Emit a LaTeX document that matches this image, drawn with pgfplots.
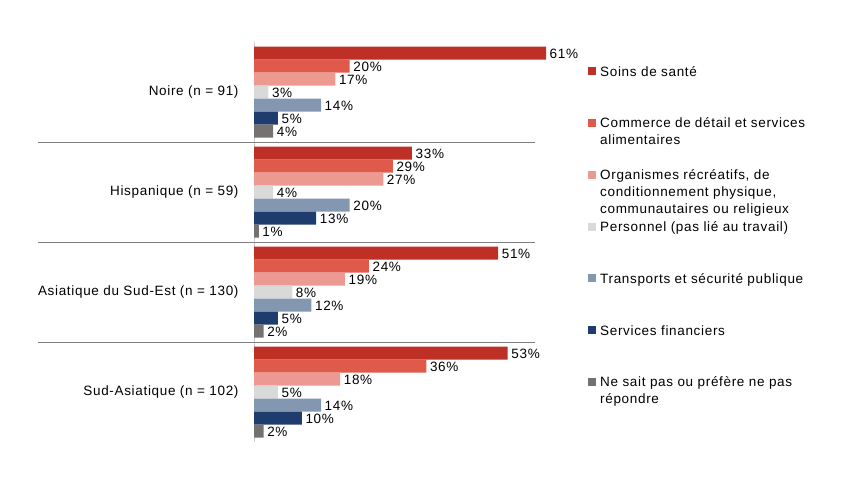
\documentclass[border=0pt]{standalone}
\usepackage{pgfplots}
\pgfplotsset{compat=1.18}
\usepackage{fontspec}
\setmainfont{Liberation Sans}[LetterSpace=5]
\definecolor{c1}{HTML}{BE2F26}
\definecolor{c2}{HTML}{E05A4B}
\definecolor{c3}{HTML}{EC9A91}
\definecolor{c4}{HTML}{D9D9D9}
\definecolor{c5}{HTML}{8497B0}
\definecolor{c6}{HTML}{1F3C6E}
\definecolor{c7}{HTML}{767171}
\newcommand\cf{\fontsize{13.5bp}{17bp}\selectfont}
\newcommand\lgent[1]{\parbox[t]{205bp}{\raggedright #1}}
\begin{document}
\begin{tikzpicture}
\useasboundingbox (0,0) rectangle (864bp,486bp);
\begin{axis}[
  at={(254bp,44bp)}, anchor=south west,
  scale only axis, width=281bp, height=400bp,
  xbar, bar width=0.13,
  xmin=0, xmax=58.7,
  ymin=-0.5, ymax=3.5, y dir=reverse,
  axis x line=none,
  axis y line*=left,
  y axis line style={draw=gray!40, -},
  ytick={0,1,2,3},
  yticklabels={Noire (n = 91), Hispanique (n = 59), Asiatique du Sud-Est (n = 130), Sud-Asiatique (n = 102)},
  major tick length=0pt,
  yticklabel style={font=\cf, xshift=-12bp},
  extra y ticks={0.5,1.5,2.5},
  extra y tick labels={},
  extra y tick style={major tick length=216bp, tick align=outside, tick style={draw=gray, line width=0.8bp}, grid=major, major grid style={draw=gray, line width=0.8bp}},
  clip=false,
  /pgf/number format/assume math mode=true,
  nodes near coords={\pgfmathprintnumber{\pgfplotspointmeta}\%},
  every node near coord/.append style={font=\cf, anchor=west, inner sep=2bp, xshift=1.5bp, yshift=-0.5bp},
  legend style={at={(1.1886,0.945)}, anchor=north west, draw=none, fill=none, font=\cf, legend cell align=left, row sep=0pt, inner sep=0pt, nodes={inner sep=0pt, text height=11.8bp, text depth=40bp}, column sep=4bp},
  legend image code/.code={\fill[#1, draw=none] (0bp,15bp) rectangle (8bp,23bp);},
]
\addplot[fill=c1, draw=none, bar shift=-0.39] coordinates {(61,0) (33,1) (51,2) (53,3)};
\addlegendentry{\lgent{Soins de santé}}
\addplot[fill=c2, draw=none, bar shift=-0.26] coordinates {(20,0) (29,1) (24,2) (36,3)};
\addlegendentry{\lgent{Commerce de détail et services alimentaires}}
\addplot[fill=c3, draw=none, bar shift=-0.13] coordinates {(17,0) (27,1) (19,2) (18,3)};
\addlegendentry{\lgent{Organismes récréatifs, de conditionnement physique, communautaires ou religieux}}
\addplot[fill=c4, draw=none, bar shift=0] coordinates {(3,0) (4,1) (8,2) (5,3)};
\addlegendentry{\lgent{Personnel (pas lié au travail)}}
\addplot[fill=c5, draw=none, bar shift=0.13] coordinates {(14,0) (20,1) (12,2) (14,3)};
\addlegendentry{\lgent{Transports et sécurité publique}}
\addplot[fill=c6, draw=none, bar shift=0.26] coordinates {(5,0) (13,1) (5,2) (10,3)};
\addlegendentry{\lgent{Services financiers}}
\addplot[fill=c7, draw=none, bar shift=0.39] coordinates {(4,0) (1,1) (2,2) (2,3)};
\addlegendentry{\lgent{Ne sait pas ou préfère ne pas répondre}}
\end{axis}
\end{tikzpicture}
\end{document}
